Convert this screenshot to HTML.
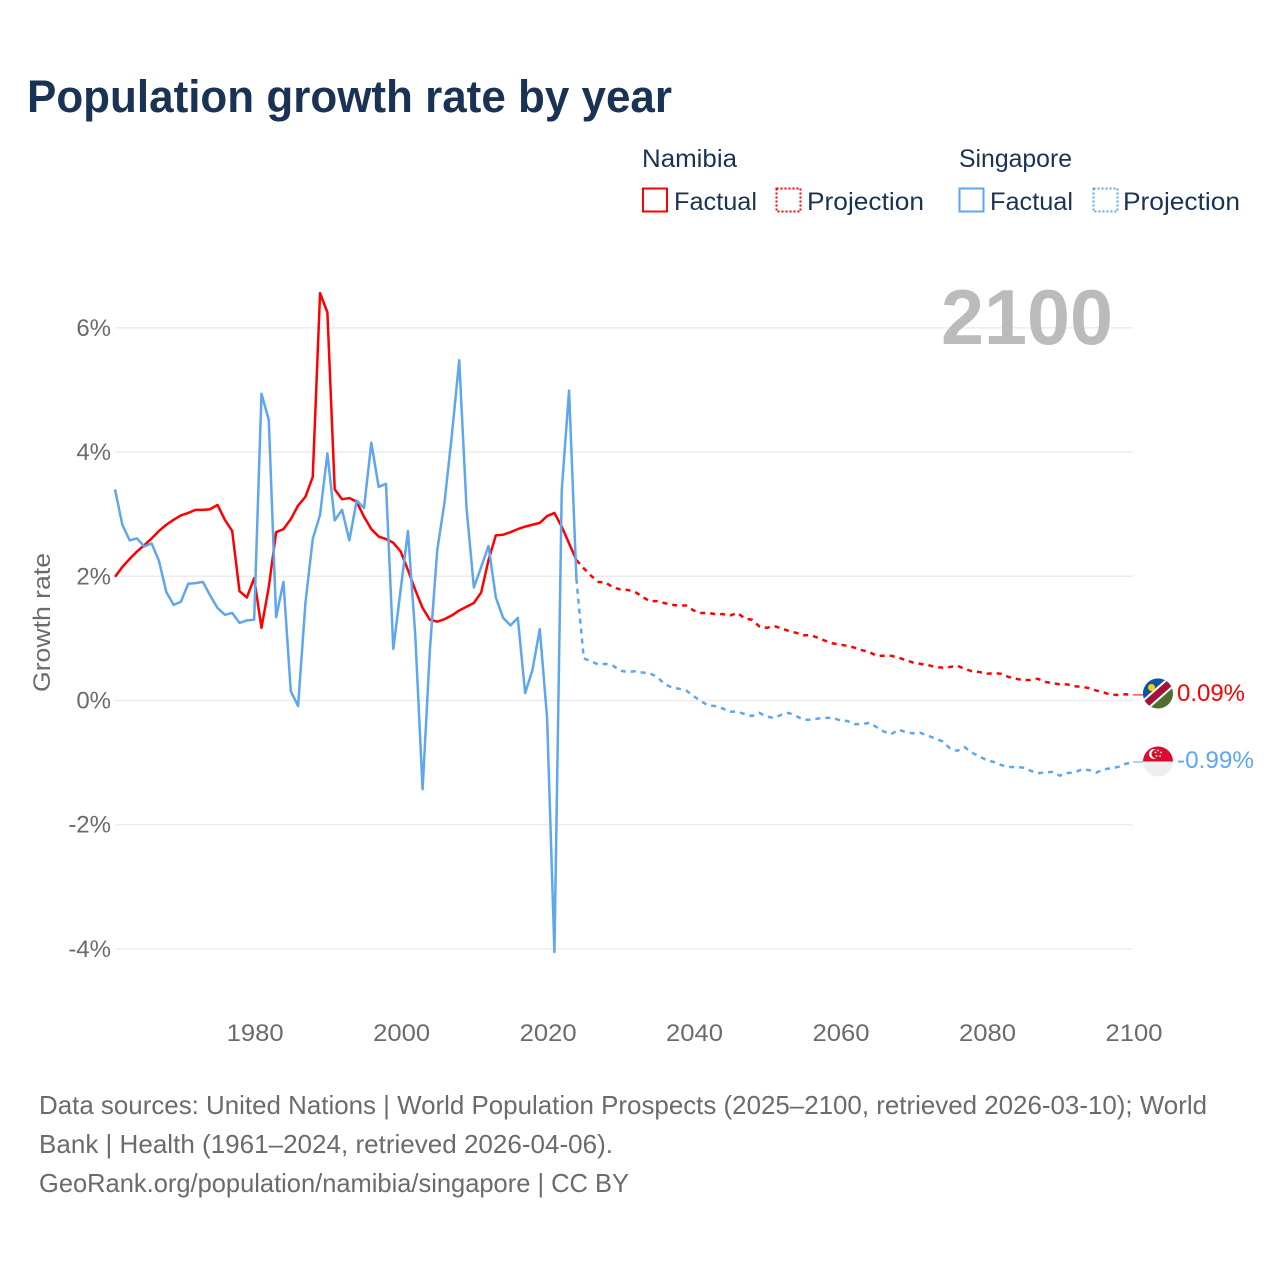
<!DOCTYPE html>
<html lang="en">
<head>
<meta charset="utf-8">
<title>Population growth rate by year</title>
<style>
html,body{margin:0;padding:0;background:#fff}
svg{display:block}
text{font-family:"Liberation Sans",sans-serif}
</style>
</head>
<body>
<svg id="chart" xmlns="http://www.w3.org/2000/svg" width="1280" height="1280" viewBox="0 0 1280 1280">
  <defs>
    <clipPath id="na-clip"><circle cx="1158" cy="693.5" r="15"/></clipPath>
    <clipPath id="sg-clip"><circle cx="1158" cy="761.5" r="15"/></clipPath>
  </defs>
  <rect width="1280" height="1280" fill="#fff"/>
  <text x="27" y="112" font-size="45" font-weight="700" fill="#1a3355" textLength="645" lengthAdjust="spacingAndGlyphs">Population growth rate by year</text>

  <g font-size="25" fill="#1a3355">
    <text x="642" y="167" textLength="95" lengthAdjust="spacingAndGlyphs">Namibia</text>
    <text x="959" y="167" textLength="113" lengthAdjust="spacingAndGlyphs">Singapore</text>
    <rect x="643" y="188.500" width="24" height="23" fill="none" stroke="#ff0000" stroke-width="2"/>
    <text x="674" y="210" textLength="83" lengthAdjust="spacingAndGlyphs">Factual</text>
    <rect x="776.500" y="188.500" width="24" height="23" fill="none" stroke="#ff0000" stroke-width="2" stroke-dasharray="2 2"/>
    <text x="807" y="210" textLength="117" lengthAdjust="spacingAndGlyphs">Projection</text>
    <rect x="959.500" y="188.500" width="24" height="23" fill="none" stroke="#5ea6ee" stroke-width="2"/>
    <text x="990" y="210" textLength="83" lengthAdjust="spacingAndGlyphs">Factual</text>
    <rect x="1093.500" y="188.500" width="24" height="23" fill="none" stroke="#5ea6ee" stroke-width="2" stroke-dasharray="2 2"/>
    <text x="1123" y="210" textLength="117" lengthAdjust="spacingAndGlyphs">Projection</text>
  </g>

  <g id="grid"></g>
  <g id="y-ticks"></g>
  <g id="x-ticks"></g>
  <text transform="translate(50,692) rotate(-90)" font-size="24" fill="#6b6b6b" textLength="139" lengthAdjust="spacingAndGlyphs">Growth rate</text>
  <text x="941" y="344" font-size="78" font-weight="700" fill="#bbbbbb" textLength="172" lengthAdjust="spacingAndGlyphs">2100</text>
  <g id="series"></g>

  <g clip-path="url(#na-clip)">
    <rect x="1143" y="678" width="30" height="31" fill="#4f6f2f"/>
    <polygon points="1143,678 1173,678 1143,709" fill="#0a57a8"/>
    <line x1="1141" y1="708.500" x2="1175" y2="678.500" stroke="#fff" stroke-width="11"/>
    <line x1="1141" y1="708.500" x2="1175" y2="678.500" stroke="#a3123a" stroke-width="7"/>
    <circle cx="1151.500" cy="687.500" r="3.500" fill="#ffce00"/>
  </g>
  <g clip-path="url(#sg-clip)">
    <rect x="1143" y="746" width="30" height="15.500" fill="#dc0a2d"/>
    <rect x="1143" y="761.500" width="30" height="15.500" fill="#eeeeee"/>
    <circle cx="1154" cy="754" r="5" fill="#fff"/>
    <circle cx="1156" cy="754" r="4.500" fill="#dc0a2d"/>
    <g fill="#fff">
      <circle cx="1158" cy="750.500" r="0.900"/>
      <circle cx="1161" cy="752.500" r="0.900"/>
      <circle cx="1160" cy="756" r="0.900"/>
      <circle cx="1156.500" cy="756" r="0.900"/>
      <circle cx="1155.500" cy="752.500" r="0.900"/>
    </g>
  </g>
  <g id="end-labels"></g>

  <g font-size="26" fill="#6b6b6b">
    <text x="39" y="1114" textLength="1168" lengthAdjust="spacingAndGlyphs">Data sources: United Nations | World Population Prospects (2025–2100, retrieved 2026-03-10); World</text>
    <text x="39" y="1153" textLength="574" lengthAdjust="spacingAndGlyphs">Bank | Health (1961–2024, retrieved 2026-04-06).</text>
    <text x="39" y="1192" textLength="590" lengthAdjust="spacingAndGlyphs">GeoRank.org/population/namibia/singapore | CC BY</text>
  </g>
</svg>
<script>
const yTickValues = [6, 4, 2, 0, -2, -4];
const yTickLabels = ['6%', '4%', '2%', '0%', '-2%', '-4%'];
const xTickYears = [1980, 2000, 2020, 2040, 2060, 2080, 2100];
const xTickLabels = ['1980', '2000', '2020', '2040', '2060', '2080', '2100'];
const factualStartYear = 1961;
const projectionStartYear = 2024;

const namibiaFactual = [
  1.99, 2.15, 2.28, 2.40, 2.50, 2.61, 2.73, 2.83, 2.91, 2.98,
  3.02, 3.07, 3.07, 3.08, 3.15, 2.91, 2.73, 1.76, 1.66, 1.97,
  1.17, 1.83, 2.71, 2.76, 2.92, 3.14, 3.28, 3.60, 6.56, 6.25,
  3.40, 3.24, 3.26, 3.20, 2.96, 2.76, 2.64, 2.60, 2.54, 2.40,
  2.10, 1.78, 1.49, 1.30, 1.27, 1.31, 1.37, 1.45, 1.51, 1.57,
  1.74, 2.26, 2.66, 2.67, 2.71, 2.76, 2.80, 2.83, 2.86, 2.97,
  3.02, 2.80, 2.53, 2.26
];
const singaporeFactual = [
  3.40, 2.83, 2.58, 2.61, 2.48, 2.53, 2.25, 1.75, 1.54, 1.59,
  1.88, 1.89, 1.91, 1.69, 1.49, 1.38, 1.41, 1.25, 1.29, 1.30,
  4.94, 4.52, 1.34, 1.91, 0.15, -0.09, 1.57, 2.60, 2.99, 3.98,
  2.90, 3.07, 2.58, 3.22, 3.10, 4.15, 3.44, 3.49, 0.83, 1.78,
  2.73, 1.05, -1.43, 0.82, 2.42, 3.20, 4.28, 5.48, 3.10, 1.82,
  2.15, 2.49, 1.66, 1.33, 1.21, 1.33, 0.12, 0.49, 1.15, -0.28,
  -4.05, 3.39, 4.99, 1.96
];
const namibiaProjection = [
  2.26, 2.13, 2.01, 1.91, 1.90, 1.82, 1.79, 1.78, 1.75, 1.67,
  1.60, 1.60, 1.57, 1.54, 1.53, 1.53, 1.45, 1.41, 1.41, 1.39,
  1.39, 1.37, 1.41, 1.32, 1.30, 1.19, 1.17, 1.20, 1.16, 1.12,
  1.09, 1.05, 1.05, 1.01, 0.96, 0.92, 0.90, 0.88, 0.85, 0.81,
  0.78, 0.72, 0.72, 0.72, 0.69, 0.65, 0.61, 0.59, 0.57, 0.54,
  0.53, 0.54, 0.56, 0.51, 0.47, 0.46, 0.43, 0.44, 0.43, 0.38,
  0.35, 0.33, 0.33, 0.35, 0.30, 0.28, 0.26, 0.26, 0.23, 0.22,
  0.20, 0.16, 0.13, 0.09, 0.09, 0.10, 0.09
];
const singaporeProjection = [
  1.96, 0.68, 0.63, 0.58, 0.59, 0.56, 0.48, 0.46, 0.47, 0.45,
  0.44, 0.38, 0.27, 0.21, 0.19, 0.16, 0.07, -0.01, -0.08, -0.09,
  -0.13, -0.18, -0.18, -0.22, -0.25, -0.20, -0.26, -0.28, -0.23, -0.20,
  -0.25, -0.31, -0.31, -0.29, -0.28, -0.28, -0.32, -0.33, -0.38, -0.38,
  -0.36, -0.43, -0.50, -0.54, -0.47, -0.51, -0.53, -0.52, -0.57, -0.61,
  -0.66, -0.77, -0.81, -0.75, -0.84, -0.90, -0.96, -0.99, -1.04, -1.07,
  -1.07, -1.08, -1.13, -1.17, -1.16, -1.15, -1.21, -1.17, -1.16, -1.11,
  -1.12, -1.16, -1.11, -1.09, -1.07, -1.02, -0.99
];
const endValueNamibia = 0.09;
const endValueSingapore = -0.99;
const endLabelNamibia = '0.09%';
const endLabelSingapore = '-0.99%';

const SVG_NS = 'http://www.w3.org/2000/svg';
const RED = '#ff0000';
const BLUE = '#5ea6ee';
function xScale(year) { return 115 + (year - 1961) * (1133 - 115) / 139; }
function yScale(value) { return 700.5 - value * 62.1; }
function make(tag, parent) {
  const el = document.createElementNS(SVG_NS, tag);
  parent.appendChild(el);
  return el;
}
function pathFrom(values, startYear) {
  return values.map(function (v, i) {
    return (i ? 'L' : 'M') + xScale(startYear + i).toFixed(2) + ' ' + yScale(v).toFixed(2);
  }).join(' ');
}

const gridGroup = document.getElementById('grid');
const yTickGroup = document.getElementById('y-ticks');
yTickValues.forEach(function (v, i) {
  const line = make('line', gridGroup);
  
  
  line.setAttribute('x1', 115);
  line.setAttribute('x2', 1133);
  line.setAttribute('y1', yScale(v));
  line.setAttribute('y2', yScale(v));
  line.setAttribute('stroke', '#ececec');
  line.setAttribute('stroke-width', 1.5);
  const t = make('text', yTickGroup);
  
  
  t.setAttribute('x', 111);
  t.setAttribute('y', yScale(v) + 8);
  t.setAttribute('text-anchor', 'end');
  t.setAttribute('font-size', 24);
  t.setAttribute('fill', '#6b6b6b');
  t.textContent = yTickLabels[i];
});

const xTickGroup = document.getElementById('x-ticks');
xTickYears.forEach(function (year, i) {
  const t = make('text', xTickGroup);
  
  
  t.setAttribute('x', xScale(year) + 1);
  t.setAttribute('y', 1041);
  t.setAttribute('text-anchor', 'middle');
  t.setAttribute('font-size', 24.5);
  t.setAttribute('fill', '#6b6b6b');
  t.setAttribute('textLength', 57);
  t.setAttribute('lengthAdjust', 'spacingAndGlyphs');
  t.textContent = xTickLabels[i];
});

const seriesGroup = document.getElementById('series');

const namibiaProjectionLine = make('path', seriesGroup);


namibiaProjectionLine.setAttribute('d', pathFrom(namibiaProjection, projectionStartYear));
namibiaProjectionLine.setAttribute('fill', 'none');
namibiaProjectionLine.setAttribute('stroke', RED);
namibiaProjectionLine.setAttribute('stroke-width', 2.5);
namibiaProjectionLine.setAttribute('stroke-dasharray', '5 5');

const singaporeProjectionLine = make('path', seriesGroup);


singaporeProjectionLine.setAttribute('d', pathFrom(singaporeProjection, projectionStartYear));
singaporeProjectionLine.setAttribute('fill', 'none');
singaporeProjectionLine.setAttribute('stroke', BLUE);
singaporeProjectionLine.setAttribute('stroke-width', 2.5);
singaporeProjectionLine.setAttribute('stroke-dasharray', '5 5');

const namibiaFactualLine = make('path', seriesGroup);


namibiaFactualLine.setAttribute('d', pathFrom(namibiaFactual, factualStartYear));
namibiaFactualLine.setAttribute('fill', 'none');
namibiaFactualLine.setAttribute('stroke', RED);
namibiaFactualLine.setAttribute('stroke-width', 2.5);
namibiaFactualLine.setAttribute('stroke-linejoin', 'round');

const singaporeFactualLine = make('path', seriesGroup);


singaporeFactualLine.setAttribute('d', pathFrom(singaporeFactual, factualStartYear));
singaporeFactualLine.setAttribute('fill', 'none');
singaporeFactualLine.setAttribute('stroke', BLUE);
singaporeFactualLine.setAttribute('stroke-width', 2.5);
singaporeFactualLine.setAttribute('stroke-linejoin', 'round');

const labelGroup = document.getElementById('end-labels');

const namibiaConnector = make('line', labelGroup);


namibiaConnector.setAttribute('x1', 1133);
namibiaConnector.setAttribute('x2', 1143);
namibiaConnector.setAttribute('y1', yScale(endValueNamibia));
namibiaConnector.setAttribute('y2', yScale(endValueNamibia));
namibiaConnector.setAttribute('stroke', RED);
namibiaConnector.setAttribute('stroke-width', 1);

const singaporeConnector = make('line', labelGroup);


singaporeConnector.setAttribute('x1', 1133);
singaporeConnector.setAttribute('x2', 1143);
singaporeConnector.setAttribute('y1', yScale(endValueSingapore));
singaporeConnector.setAttribute('y2', yScale(endValueSingapore));
singaporeConnector.setAttribute('stroke', BLUE);
singaporeConnector.setAttribute('stroke-width', 1);

const namibiaEndLabel = make('text', labelGroup);


namibiaEndLabel.setAttribute('x', 1177);
namibiaEndLabel.setAttribute('y', yScale(endValueNamibia) + 6);
namibiaEndLabel.setAttribute('font-size', 24);
namibiaEndLabel.setAttribute('fill', RED);
namibiaEndLabel.setAttribute('textLength', 68);
namibiaEndLabel.setAttribute('lengthAdjust', 'spacingAndGlyphs');
namibiaEndLabel.textContent = endLabelNamibia;

const singaporeEndLabel = make('text', labelGroup);


singaporeEndLabel.setAttribute('x', 1177);
singaporeEndLabel.setAttribute('y', yScale(endValueSingapore) + 6);
singaporeEndLabel.setAttribute('font-size', 24);
singaporeEndLabel.setAttribute('fill', BLUE);
singaporeEndLabel.setAttribute('textLength', 77);
singaporeEndLabel.setAttribute('lengthAdjust', 'spacingAndGlyphs');
singaporeEndLabel.textContent = endLabelSingapore;
</script>
</body>
</html>
